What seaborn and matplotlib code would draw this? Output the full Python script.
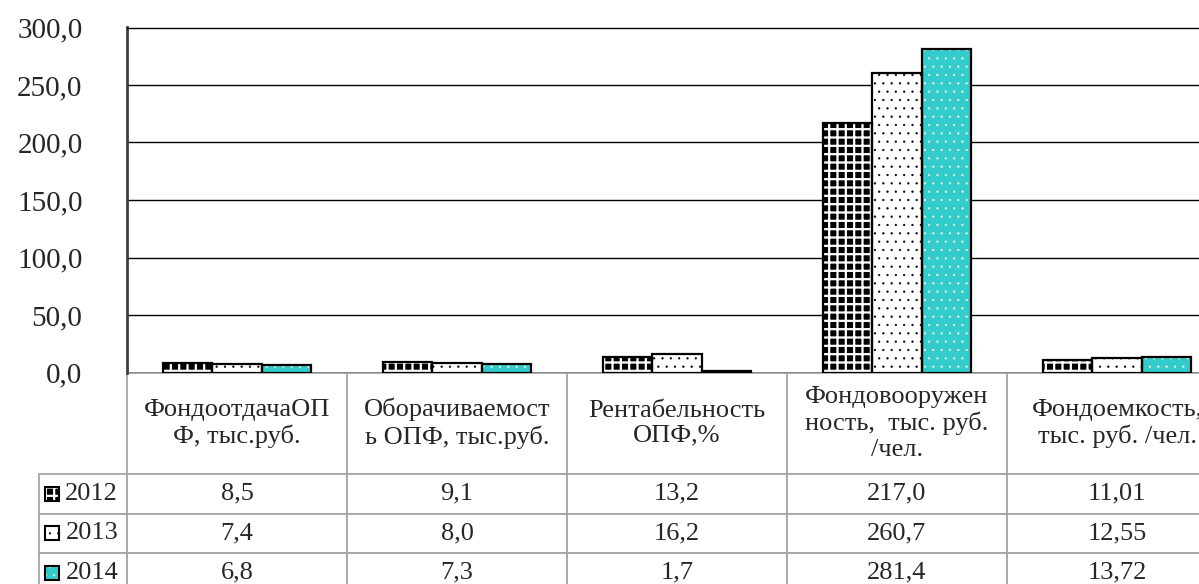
import numpy as np
import pandas as pd
import matplotlib.pyplot as plt
import seaborn as sns
from matplotlib.table import Table
from matplotlib.patches import Rectangle

# Data
categories = [
    'ФондоотдачаОП\nФ, тыс.руб.',
    'Оборачиваемост\nь ОПФ, тыс.руб.',
    'Рентабельность\nОПФ,%',
    'Фондовооружен\nность,  тыс. руб.\n/чел.',
    'Фондоемкость,\nтыс. руб. /чел.',
]
years = ['2012', '2013', '2014']
vals_2012 = [8.5, 9.1, 13.2, 217.0, 11.01]
vals_2013 = [7.4, 8.0, 16.2, 260.7, 12.55]
vals_2014 = [6.8, 7.3, 1.7, 281.4, 13.72]
decimals = [1, 1, 1, 1, 2]  # table shows Фондоемкость with 2 decimals
yticks = [0, 50, 100, 150, 200, 250, 300]

# styles per year
fills = ['black', 'white', '#33CCCC']
hatches = ['++', '..', '..']
hatch_colors = ['white', 'black', '#f0f0d0']
hatch_lws = [1.6, 0.4, 0.4]
grid_gray = '#a6a6a6'

series = [vals_2012, vals_2013, vals_2014]
df = pd.DataFrame({
    'cat': np.tile(categories, len(years)),
    'year': np.repeat(years, len(categories)),
    'value': np.concatenate(series),
})

sns.set_style('white')
plt.rcParams['font.family'] = ['Liberation Serif', 'DejaVu Serif']
plt.rcParams['hatch.linewidth'] = 1.0


def style_patch(p, hc, ht, hlw):
    p.set_edgecolor(hc)
    p.set_hatch(ht)
    p.set_linewidth(0)
    if hasattr(p, 'set_hatch_linewidth'):
        p.set_hatch_linewidth(hlw)


W, H = 1199, 584
fig = plt.figure(figsize=(W / 100, H / 100), dpi=100)
# plot area in pixels: x 127..1227 (runs past the right edge, as in the original), y 27.5..372.5
ax = fig.add_axes([127 / W, (H - 372.5) / H, 1100 / W, 345 / H])

# layer 1: fills with hatches (hatch colour comes from edgecolor)
sns.barplot(data=df, x='cat', y='value', hue='year', palette=fills, saturation=1,
            width=0.67, gap=0, legend=False, ax=ax)
for cont, hc, ht, hlw in zip(ax.containers, hatch_colors, hatches, hatch_lws):
    for p in cont:
        style_patch(p, hc, ht, hlw)

# layer 2: black outlines
sns.barplot(data=df, x='cat', y='value', hue='year', palette=['black'] * 3,
            saturation=1, width=0.67, gap=0, fill=False, linewidth=1.6,
            legend=False, ax=ax)

ax.set_ylim(0, 300)
ax.set_yticks(yticks)
ax.set_yticklabels([f'{v:.1f}'.replace('.', ',') for v in yticks], fontsize=21)
ax.tick_params(axis='y', length=0, pad=32)
ax.tick_params(axis='x', length=0, labelbottom=False)
ax.set_xlabel('')
ax.set_ylabel('')
ax.set_axisbelow(True)
ax.yaxis.grid(True, color='black', lw=1)
ax.spines['right'].set_visible(False)
ax.spines['bottom'].set_visible(False)
ax.spines['top'].set_color('black')
ax.spines['top'].set_linewidth(1)
ax.spines['left'].set_color('#404040')
ax.spines['left'].set_linewidth(2)

# data table under the plot
head_h, row_h = 101.5, 39.5
lab_w, col_w = 88, 220
tab_h = head_h + row_h * len(years)
tbl = Table(ax, bbox=[-lab_w / 1100, -tab_h / 345, 1 + lab_w / 1100, tab_h / 345])
corner = tbl.add_cell(0, 0, lab_w, head_h, text='')
corner.visible_edges = 'open'
for c, name in enumerate(categories):
    tbl.add_cell(0, c + 1, col_w, head_h, text=name, loc='center')
for r, (yr, vals) in enumerate(zip(years, series), start=1):
    tbl.add_cell(r, 0, lab_w, row_h, text=yr, loc='right')
    for c, v in enumerate(vals):
        txt = f'{v:.{decimals[c]}f}'.replace('.', ',')
        tbl.add_cell(r, c + 1, col_w, row_h, text=txt, loc='center')
for cell in tbl.get_celld().values():
    cell.set_edgecolor(grid_gray)
    cell.set_linewidth(1.3)
tbl.auto_set_font_size(False)
tbl.set_fontsize(19)
ax.add_table(tbl)

# legend keys in the row-label cells
for i, (fc, hc, ht, hlw) in enumerate(zip(fills, hatch_colors, hatches, hatch_lws)):
    yc = 372.5 + head_h + row_h * (i + 0.5)
    xy = (45 / W, 1 - (yc + 7) / H)
    key = Rectangle(xy, 14 / W, 14 / H, transform=fig.transFigure, facecolor=fc)
    style_patch(key, hc, ht, hlw)
    fig.add_artist(key)
    fig.add_artist(Rectangle(xy, 14 / W, 14 / H, transform=fig.transFigure,
                             facecolor='none', edgecolor='black', lw=1.5))

fig.savefig('out.png', dpi=100)
